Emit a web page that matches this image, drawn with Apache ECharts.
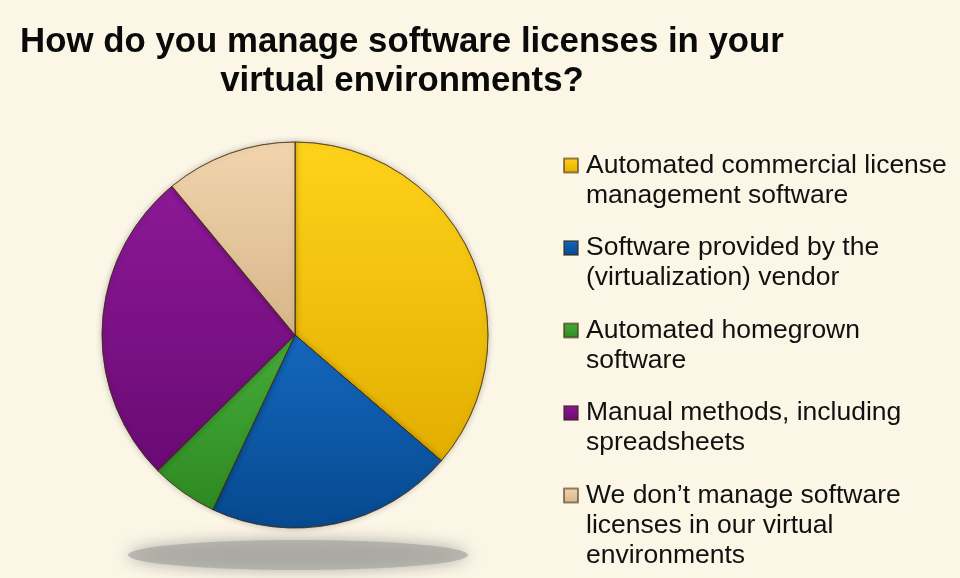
<!DOCTYPE html>
<html>
<head>
<meta charset="utf-8">
<script src="https://cdn.jsdelivr.net/npm/echarts@6/dist/echarts.min.js"></script>
<style>
html,body{margin:0;padding:0;background:#FCF6E7;}
#chart{width:960px;height:578px;}
</style>
</head>
<body>
<div id="chart"></div>
<script>
const titleText = 'How do you manage software licenses in your\nvirtual environments?';
const categories = [
  'Automated commercial license\nmanagement software',
  'Software provided by the\n(virtualization) vendor',
  'Automated homegrown\nsoftware',
  'Manual methods, including\nspreadsheets',
  'We don\u2019t manage software\nlicenses in our virtual\nenvironments'
];
const values = [36.3, 20.7, 5.6, 26.4, 11.0];
const colorsTop = ['#FFD21A', '#1467BE', '#46AC3A', '#8C1896', '#F2D5AE'];
const colorsBottom = ['#E2AE00', '#06498F', '#2E8A22', '#6A0A74', '#D6B68A'];
const legendCenters = [165.5, 248, 330.5, 413, 495.5];

const LH = 30;
const FONT = "'Liberation Sans', Arial, sans-serif";
const chart = echarts.init(document.getElementById('chart'));

const legends = categories.map((name, i) => {
  const n = name.split('\n').length;
  return {
    data: [name],
    orient: 'vertical',
    left: 563,
    top: legendCenters[i] - (n - 0.5) * LH,
    padding: 0,
    itemWidth: 14,
    itemHeight: 14,
    icon: 'rect',
    selectedMode: false,
    formatter: nm => '\n'.repeat(n - 1) + nm,
    textStyle: {
      fontFamily: FONT,
      fontSize: 26.5,
      color: '#111',
      lineHeight: LH,
      padding: [0, 0, 0, 3]
    }
  };
});

chart.setOption({
  backgroundColor: '#FCF6E7',
  title: {
    text: titleText,
    left: 397,
    top: 18,
    textAlign: 'center',
    textStyle: {
      fontFamily: FONT,
      fontWeight: 'bold',
      fontSize: 34.8,
      lineHeight: 39,
      color: '#0a0a0a'
    }
  },
  legend: legends,
  graphic: [{
    type: 'ellipse',
    shape: {cx: 298, cy: 555, rx: 170, ry: 15},
    z: 0,
    style: {
      fill: 'rgba(165,165,160,0.7)',
      shadowBlur: 16,
      shadowColor: 'rgba(130,130,128,0.9)'
    }
  }],
  series: [{
    type: 'pie',
    center: [295, 335],
    radius: 193,
    startAngle: 90,
    clockwise: true,
    label: {show: false},
    labelLine: {show: false},
    silent: true,
    data: categories.map((name, i) => ({
      name: name,
      value: values[i],
      itemStyle: {
        color: {
          type: 'linear', x: 0, y: 0, x2: 0, y2: 1,
          colorStops: [
            {offset: 0, color: colorsTop[i]},
            {offset: 1, color: colorsBottom[i]}
          ]
        },
        borderColor: 'rgba(60,40,10,0.55)',
        borderWidth: 1,
        shadowBlur: 6,
        shadowColor: 'rgba(0,0,0,0.25)'
      }
    }))
  }]
});
</script>
</body>
</html>
